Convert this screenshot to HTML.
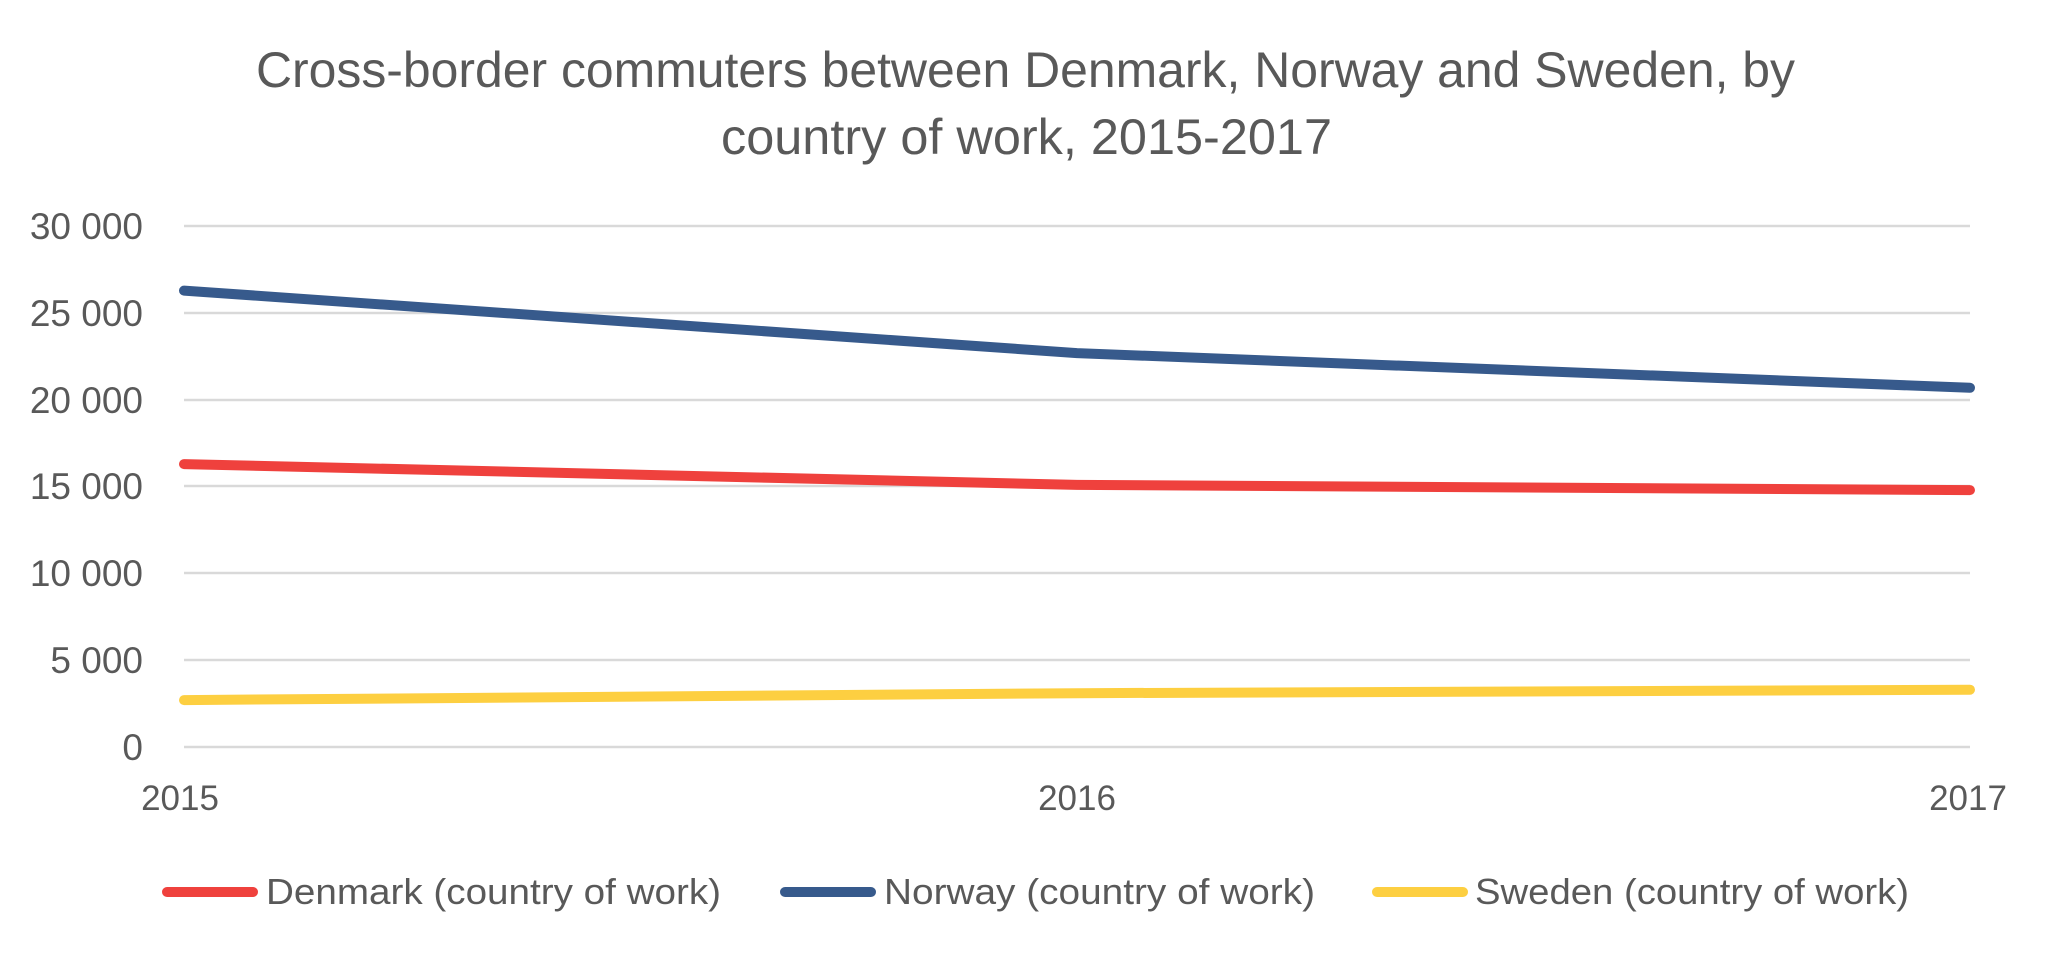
<!DOCTYPE html>
<html><head><meta charset="utf-8"><style>html,body{margin:0;padding:0;background:#fff;}svg{display:block}</style></head>
<body>
<svg width="2052" height="954" viewBox="0 0 2052 954" xmlns="http://www.w3.org/2000/svg" font-family="'Liberation Sans', sans-serif" fill="#595959">
<rect width="2052" height="954" fill="#fff"/>
<text x="256" y="87" font-size="50" textLength="1539" lengthAdjust="spacingAndGlyphs">Cross-border commuters between Denmark, Norway and Sweden, by</text>
<text x="721" y="154" font-size="50" textLength="611" lengthAdjust="spacingAndGlyphs">country of work, 2015-2017</text>
<g stroke="#D9D9D9" stroke-width="2.5">
<line x1="184" x2="1970" y1="226" y2="226"/>
<line x1="184" x2="1970" y1="313" y2="313"/>
<line x1="184" x2="1970" y1="400" y2="400"/>
<line x1="184" x2="1970" y1="486" y2="486"/>
<line x1="184" x2="1970" y1="573" y2="573"/>
<line x1="184" x2="1970" y1="660" y2="660"/>
<line x1="184" x2="1970" y1="747" y2="747"/>
</g>
<g font-size="37" text-anchor="end">
<text x="143" y="239">30 000</text>
<text x="143" y="326">25 000</text>
<text x="143" y="413">20 000</text>
<text x="143" y="499">15 000</text>
<text x="143" y="586">10 000</text>
<text x="143" y="673">5 000</text>
<text x="143" y="760">0</text>
</g>
<g font-size="35" text-anchor="middle">
<text x="180" y="810">2015</text>
<text x="1077" y="810">2016</text>
<text x="1968" y="810">2017</text>
</g>
<g fill="none" stroke-width="10" stroke-linecap="round" stroke-linejoin="round">
<polyline stroke="#375A8C" points="184,290.6 1077,353.1 1970,387.8"/>
<polyline stroke="#EF413D" points="184,464.1 1077,484.9 1970,490.1"/>
<polyline stroke="#FDCF41" points="184,700.1 1077,693.2 1970,689.7"/>
<line stroke="#EF413D" x1="167" x2="253" y1="892" y2="892"/>
<line stroke="#375A8C" x1="785" x2="871" y1="892" y2="892"/>
<line stroke="#FDCF41" x1="1377" x2="1463" y1="892" y2="892"/>
</g>
<g font-size="36">
<text x="266" y="904" textLength="455" lengthAdjust="spacingAndGlyphs">Denmark (country of work)</text>
<text x="884" y="904" textLength="431" lengthAdjust="spacingAndGlyphs">Norway (country of work)</text>
<text x="1475" y="904" textLength="434" lengthAdjust="spacingAndGlyphs">Sweden (country of work)</text>
</g>
</svg>
</body></html>
